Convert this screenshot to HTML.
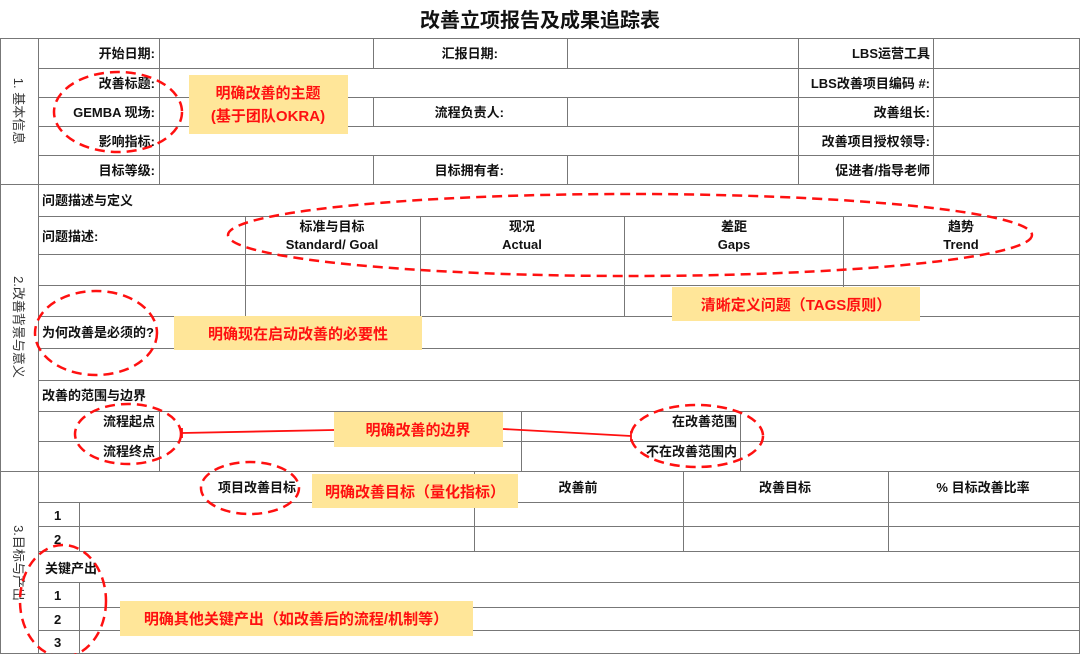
<!DOCTYPE html>
<html><head><meta charset="utf-8"><style>
html,body{margin:0;padding:0;background:#fff;}
body{width:1080px;height:654px;overflow:hidden;position:relative;}
svg{position:absolute;left:0;top:0;}
text{font-family:"Liberation Sans","Noto Sans CJK SC",sans-serif;}
</style></head><body>
<svg width="1080" height="654" viewBox="0 0 1080 654" xmlns="http://www.w3.org/2000/svg">
<rect x="0" y="0" width="1080" height="654" fill="#fff"/>
<text x="540" y="27" text-anchor="middle" font-size="20" font-weight="bold" fill="#111">改善立项报告及成果追踪表</text>
<g stroke="#777" stroke-width="1" fill="none" shape-rendering="crispEdges">
<!-- outer -->
<rect x="0.5" y="38.5" width="1079" height="615"/>
<line x1="38.5" y1="38" x2="38.5" y2="654"/>
<!-- section 1 -->
<line x1="38" y1="68.5" x2="1080" y2="68.5"/>
<line x1="38" y1="97.5" x2="1080" y2="97.5"/>
<line x1="38" y1="126.5" x2="1080" y2="126.5"/>
<line x1="38" y1="155.5" x2="1080" y2="155.5"/>
<line x1="0" y1="184.5" x2="1080" y2="184.5"/>
<line x1="159.5" y1="38" x2="159.5" y2="184"/>
<line x1="798.5" y1="38" x2="798.5" y2="184"/>
<line x1="933.5" y1="38" x2="933.5" y2="184"/>
<line x1="373.5" y1="38" x2="373.5" y2="68"/><line x1="567.5" y1="38" x2="567.5" y2="68"/>
<line x1="373.5" y1="97" x2="373.5" y2="126"/><line x1="567.5" y1="97" x2="567.5" y2="126"/>
<line x1="373.5" y1="155" x2="373.5" y2="184"/><line x1="567.5" y1="155" x2="567.5" y2="184"/>
<!-- section 2 -->
<line x1="38" y1="216.5" x2="1080" y2="216.5"/>
<line x1="38" y1="254.5" x2="1080" y2="254.5"/>
<line x1="38" y1="285.5" x2="1080" y2="285.5"/>
<line x1="38" y1="316.5" x2="1080" y2="316.5"/>
<line x1="38" y1="348.5" x2="1080" y2="348.5"/>
<line x1="38" y1="380.5" x2="1080" y2="380.5"/>
<line x1="38" y1="411.5" x2="1080" y2="411.5"/>
<line x1="38" y1="441.5" x2="1080" y2="441.5"/>
<line x1="0" y1="471.5" x2="1080" y2="471.5"/>
<line x1="245.5" y1="216" x2="245.5" y2="316"/>
<line x1="420.5" y1="216" x2="420.5" y2="316"/>
<line x1="624.5" y1="216" x2="624.5" y2="316"/>
<line x1="843.5" y1="216" x2="843.5" y2="316"/>
<line x1="159.5" y1="411" x2="159.5" y2="471"/>
<line x1="521.5" y1="411" x2="521.5" y2="471"/>
<line x1="740.5" y1="411" x2="740.5" y2="471"/>
<!-- section 3 -->
<line x1="38" y1="502.5" x2="1080" y2="502.5"/>
<line x1="38" y1="526.5" x2="1080" y2="526.5"/>
<line x1="38" y1="551.5" x2="1080" y2="551.5"/>
<line x1="38" y1="582.5" x2="1080" y2="582.5"/>
<line x1="38" y1="607.5" x2="1080" y2="607.5"/>
<line x1="38" y1="630.5" x2="1080" y2="630.5"/>
<line x1="79.5" y1="502" x2="79.5" y2="551"/>
<line x1="79.5" y1="582" x2="79.5" y2="654"/>
<line x1="474.5" y1="471" x2="474.5" y2="551"/>
<line x1="683.5" y1="471" x2="683.5" y2="551"/>
<line x1="888.5" y1="471" x2="888.5" y2="551"/>
</g>
<g font-size="13" font-weight="bold" fill="#111" text-anchor="end">
<text x="155" y="58">开始日期:</text>
<text x="155" y="88">改善标题:</text>
<text x="155" y="117">GEMBA 现场:</text>
<text x="155" y="146">影响指标:</text>
<text x="155" y="175">目标等级:</text>
<text x="498" y="58">汇报日期:</text>
<text x="504" y="117">流程负责人:</text>
<text x="504" y="175">目标拥有者:</text>
<text x="930" y="58">LBS运营工具</text>
<text x="930" y="88">LBS改善项目编码 #:</text>
<text x="930" y="117">改善组长:</text>
<text x="930" y="146">改善项目授权领导:</text>
<text x="930" y="175">促进者/指导老师</text>
<text x="155" y="426">流程起点</text>
<text x="155" y="456">流程终点</text>
<text x="737" y="426">在改善范围</text>
<text x="737" y="456">不在改善范围内</text>
</g>
<g font-size="13" font-weight="bold" fill="#111">
<text x="42" y="205">问题描述与定义</text>
<text x="42" y="241">问题描述:</text>
<text x="42" y="337">为何改善是必须的?</text>
<text x="42" y="400">改善的范围与边界</text>
<text x="45" y="573">关键产出</text>
<text x="54" y="520">1</text><text x="54" y="544">2</text>
<text x="54" y="600">1</text><text x="54" y="624">2</text><text x="54" y="647">3</text>
</g>
<g font-size="13" font-weight="bold" fill="#111" text-anchor="middle">
<text x="332" y="231">标准与目标</text><text x="332" y="249">Standard/ Goal</text>
<text x="522" y="231">现况</text><text x="522" y="249">Actual</text>
<text x="734" y="231">差距</text><text x="734" y="249">Gaps</text>
<text x="961" y="231">趋势</text><text x="961" y="249">Trend</text>
<text x="257" y="492">项目改善目标</text>
<text x="578" y="492">改善前</text>
<text x="785" y="492">改善目标</text>
<text x="983" y="492">%  目标改善比率</text>
</g>
<g font-size="13" fill="#333" text-anchor="middle">
<text transform="translate(14,111) rotate(90)">1. 基本信息</text>
<text transform="translate(14,327) rotate(90)">2.改善背景与意义</text>
<text transform="translate(14,563) rotate(90)">3.目标与产出</text>
</g>
<!-- yellow boxes -->
<g fill="#FFE699">
<rect x="189" y="75" width="159" height="59"/>
<rect x="174" y="316" width="248" height="34"/>
<rect x="672" y="287" width="248" height="34"/>
<rect x="334" y="412" width="169" height="35"/>
<rect x="312" y="474" width="206" height="34"/>
<rect x="120" y="601" width="353" height="35"/>
</g>
<g font-size="15" font-weight="bold" fill="#ff1010" text-anchor="middle">
<text x="268" y="98">明确改善的主题</text>
<text x="268" y="121">(基于团队OKRA)</text>
<text x="298" y="339">明确现在启动改善的必要性</text>
<text x="796" y="310">清晰定义问题（TAGS原则）</text>
<text x="418" y="435">明确改善的边界</text>
<text x="415" y="497">明确改善目标（量化指标）</text>
<text x="296" y="624">明确其他关键产出（如改善后的流程/机制等）</text>
</g>
<!-- red connector -->
<g stroke="#ff1010" stroke-width="1.8" fill="none">
<line x1="182" y1="433" x2="334" y2="430"/>
<line x1="182" y1="428" x2="182" y2="438"/>
<line x1="503" y1="429" x2="631" y2="436"/>
<line x1="631" y1="431" x2="631" y2="441"/>
</g>
<!-- dashed ellipses -->
<g stroke="#ff1010" stroke-width="2.5" fill="none" stroke-dasharray="10,6">
<ellipse cx="118" cy="112" rx="64" ry="40"/>
<ellipse cx="630" cy="235" rx="402" ry="41"/>
<ellipse cx="96" cy="333" rx="61" ry="42"/>
<ellipse cx="128" cy="434" rx="53" ry="30"/>
<ellipse cx="697" cy="436" rx="66" ry="31"/>
<ellipse cx="250" cy="488" rx="49" ry="26"/>
<ellipse cx="63" cy="601" rx="43" ry="56"/>
</g>
</svg>
</body></html>
